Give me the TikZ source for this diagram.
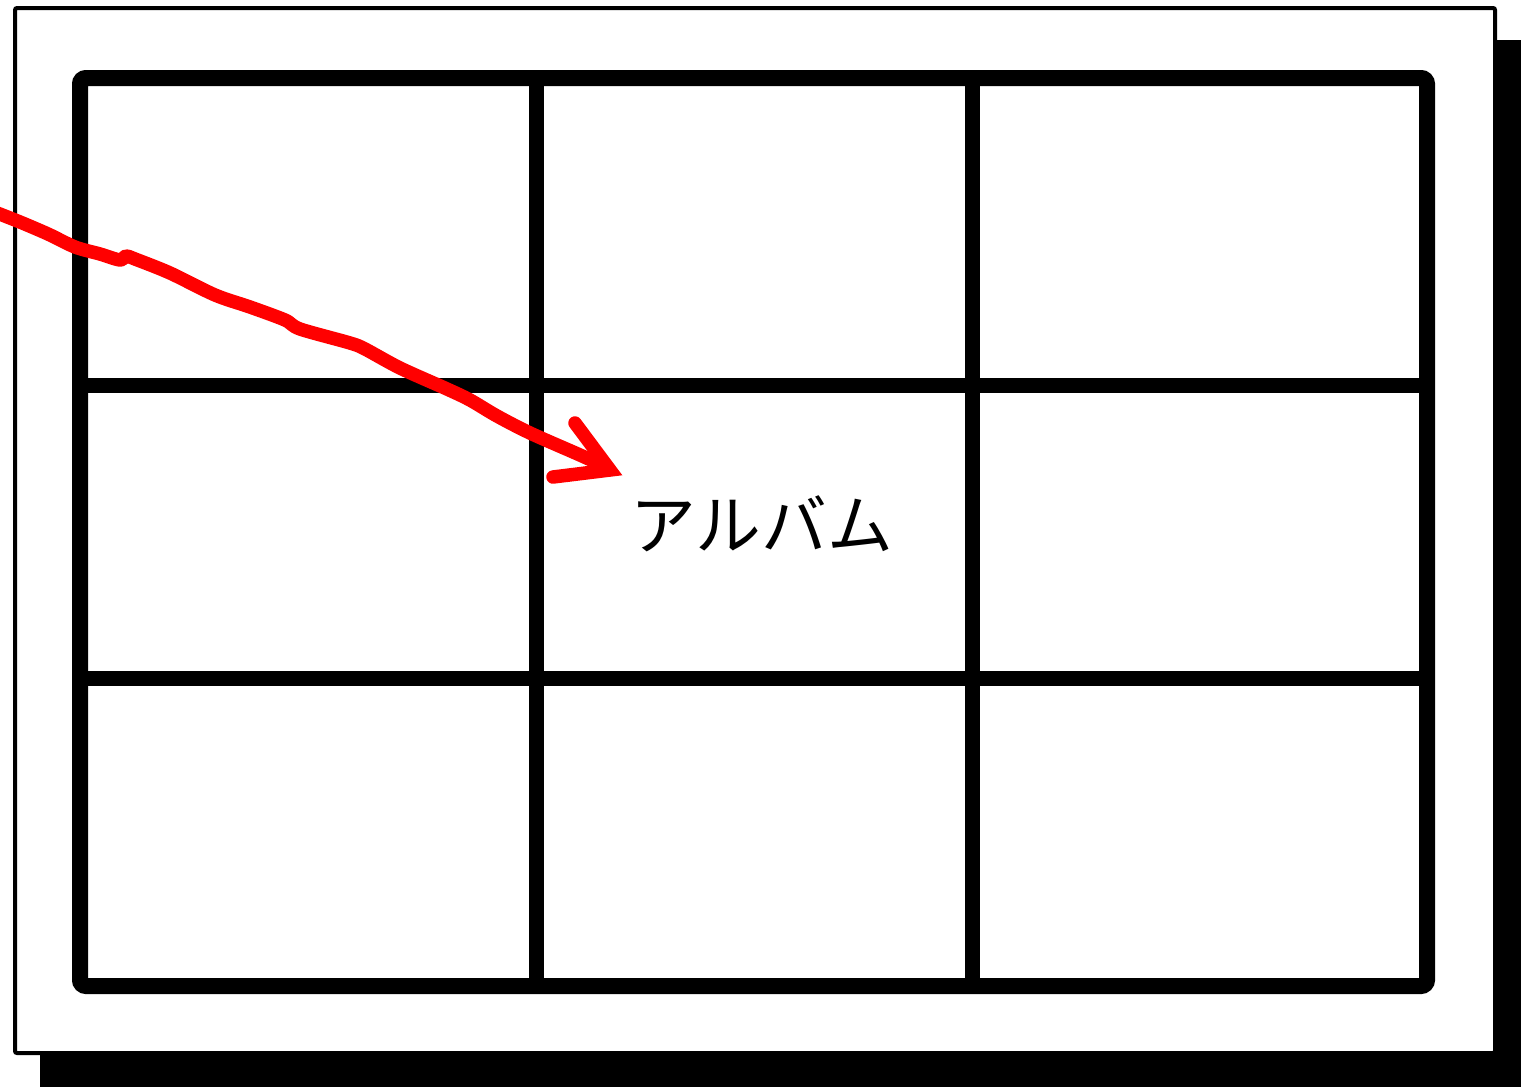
\documentclass[tikz,border=0pt]{standalone}
\usepackage{fontspec}
\newfontfamily\cjk{Noto Sans CJK JP}
\begin{document}
\begin{tikzpicture}[x=1bp,y=-1bp,
  shadowbox/.style={fill=black},
  framebox/.style={draw=black,fill=white,line width=4bp,rounded corners=2bp},
  gridouter/.style={draw=black,line width=16bp,rounded corners=6bp},
  gridline/.style={draw=black,line width=15bp},
  redstroke/.style={draw=red,line width=13.5bp,line cap=round,line join=round},
  redhead/.style={draw=red,line width=13.5bp,line cap=round,line join=miter},
  lbl/.style={font=\cjk\fontsize{66}{74}\selectfont,inner sep=0pt}]
\useasboundingbox (0,0) rectangle (1531,1086);
% shadow and frame
\fill[shadowbox] (40,40) rectangle (1521,1090);
\path[framebox] (15,8) rectangle (1495,1053);
% grid
\draw[gridline] (80,385) -- (1427,385);
\draw[gridline] (80,678) -- (1427,678);
\draw[gridline] (536,78) -- (536,986);
\draw[gridline] (972,78) -- (972,986);
\path[gridouter] (80,78) rectangle (1427,986);
% label
\node[lbl] (album) at (762,524) {アルバム};
% red hand-drawn arrow
\coordinate (start) at (-8,211);
\coordinate (tip) at (610,470);
\coordinate (armA) at (575,423);
\coordinate (armB) at (553,477);
\draw[redstroke] plot[smooth,tension=0.5] coordinates {(-8,211) (20,222) (48,234) (75,247) (100,254) (120,260) (126,256) (135,259) (170,273) (215,295) (250,307) (285,320) (300,329) (350,343) (365,349) (400,368) (447,389) (470,400) (497,416) (530,433) (580,455) (604,466)};
\draw[redhead] (armA) -- (tip) -- (armB);
\end{tikzpicture}
\end{document}
